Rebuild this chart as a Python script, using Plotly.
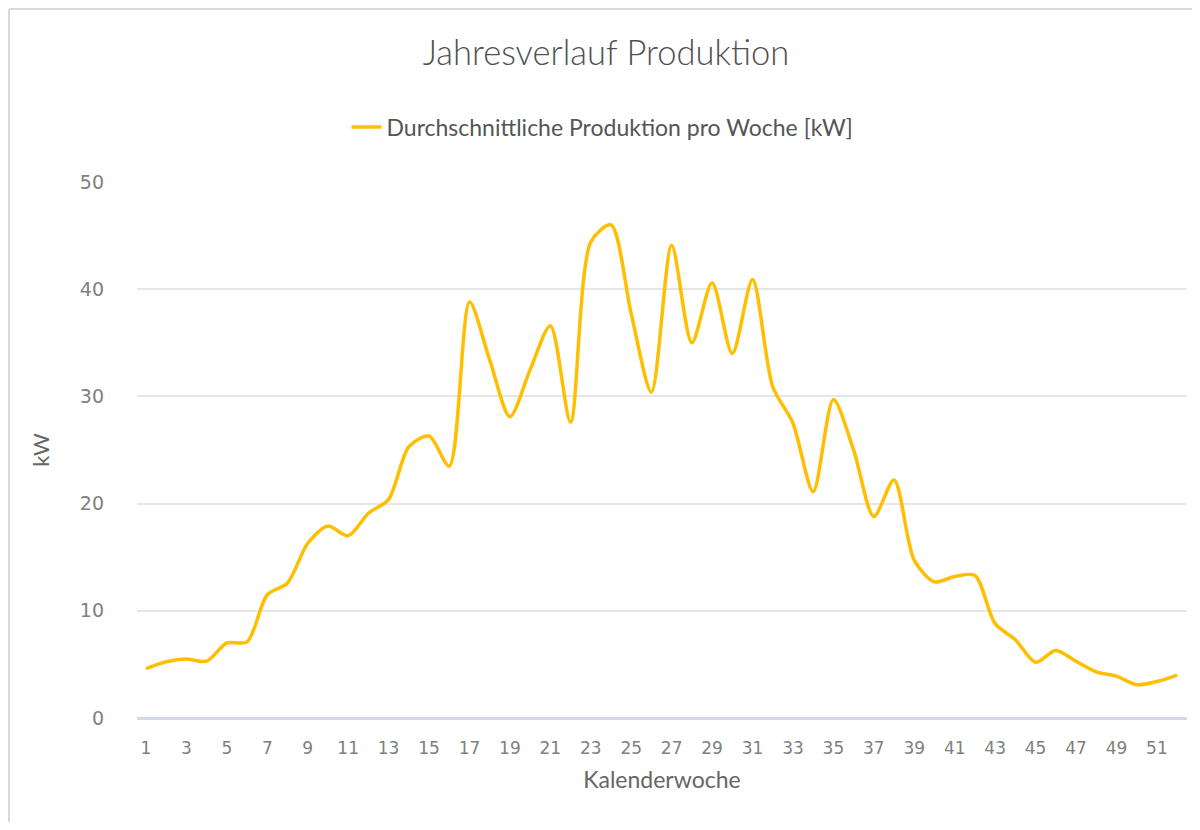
import plotly.graph_objects as go

weeks = list(range(1, 53))
production_kw = [4.6, 5.25, 5.5, 5.3, 7.0, 7.1, 11.5, 12.6, 16.3, 17.9,
                 17.0, 19.1, 20.4, 25.3, 26.3, 23.5, 38.8, 33.4, 28.1, 32.5,
                 36.6, 27.6, 44.4, 46.0, 37.7, 30.4, 44.1, 35.0, 40.6, 34.0,
                 40.9, 30.9, 27.5, 21.1, 29.7, 25.0, 18.8, 22.2, 14.7, 12.7,
                 13.2, 13.3, 8.8, 7.3, 5.2, 6.3, 5.3, 4.3, 3.9, 3.1,
                 3.4, 4.0]
x_ticks = list(range(1, 52, 2))
y_ticks = [0, 10, 20, 30, 40, 50]

series_name = "Durchschnittliche Produktion pro Woche [kW]"

FW, FH = 1184, 814
L, R, T, B = 129, 5, 174, 104
W = FW - L - R
H = FH - T - B

fig = go.Figure()
fig.add_trace(go.Scatter(
    x=weeks, y=production_kw, mode="lines", name=series_name,
    line=dict(color="#FFBF00", width=3.5, shape="spline", smoothing=0.8),
))

left_x = -(L - 1) / W
top_y = 1 + (T - 1) / H
bottom_y = -B / H

fig.update_layout(
    width=FW, height=FH,
    paper_bgcolor="white", plot_bgcolor="white",
    margin=dict(l=L, r=R, t=T, b=B),
    font=dict(family="Lato, sans-serif", color="#555555"),
    title=dict(text="Jahresverlauf Produktion", x=598 / FW, xref="container",
               y=1 - 45 / FH, yanchor="middle",
               font=dict(size=34.5, color="#505050", weight=300)),
    showlegend=True,
    legend=dict(orientation="h", x=594.5 / FW, xref="container", xanchor="center",
                y=1 - 119 / FH, yref="container", yanchor="middle",
                font=dict(size=23, color="#555555")),
    shapes=[
        dict(type="line", xref="paper", yref="paper", x0=left_x, x1=1 + R / W, y0=top_y, y1=top_y,
             line=dict(color="#d9d9d9", width=2)),
        dict(type="line", xref="paper", yref="paper", x0=left_x, x1=left_x, y0=bottom_y, y1=top_y,
             line=dict(color="#d9d9d9", width=2)),
    ],
)

fig.update_xaxes(
    range=[0.555, 52.49], tickmode="array", tickvals=x_ticks,
    ticktext=[str(t) for t in x_ticks], showgrid=False, zeroline=False,
    showline=False, ticks="", ticklabelstandoff=18,
    tickfont=dict(size=17, color="#808080", family="DejaVu Sans, sans-serif"),
    title=dict(text="Kalenderwoche", font=dict(size=23, color="#666666"), standoff=14),
)
fig.update_yaxes(
    range=[0, 50], tickmode="array", tickvals=y_ticks,
    showgrid=True, gridcolor="#e6e6e6", gridwidth=1.5,
    zeroline=True, zerolinecolor="#d3d9e4", zerolinewidth=3,
    showline=False, ticks="", ticklabelstandoff=32,
    tickfont=dict(size=19, color="#808080", family="DejaVu Sans, sans-serif"),
    title=dict(text="kW", font=dict(size=22, color="#666666"), standoff=24),
)

fig.write_html("out.html")
